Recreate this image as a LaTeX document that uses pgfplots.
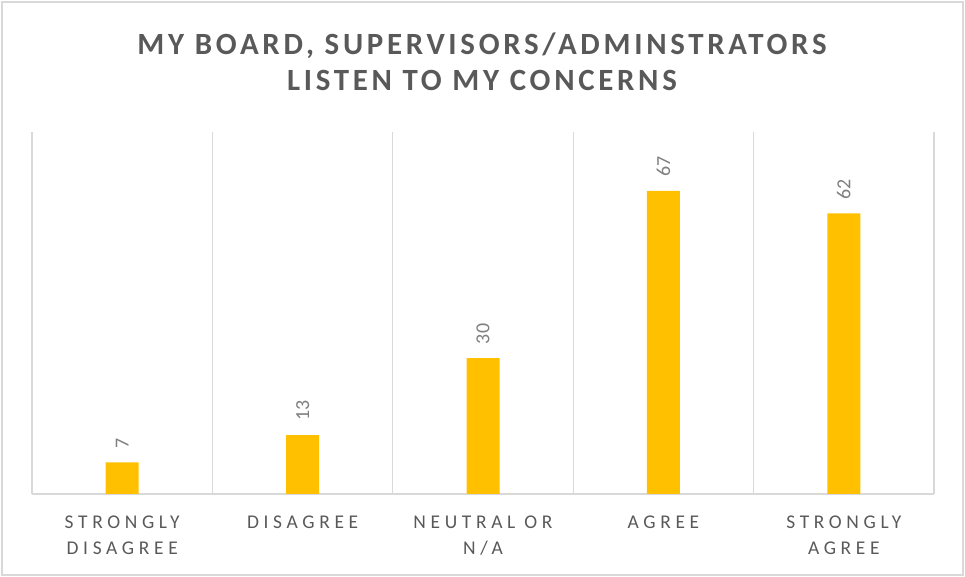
\documentclass[border=0pt]{standalone}
\usepackage{fontspec}
\usepackage{pgfplots}
\pgfplotsset{compat=1.18}
\setmainfont{Carlito}
\newfontfamily\titlefont[LetterSpace=12]{Carlito}
\newfontfamily\tickfont[LetterSpace=24]{Carlito}
\definecolor{baryellow}{HTML}{FFC000}
\definecolor{txtgray}{HTML}{595959}
\definecolor{lblgray}{HTML}{7F7F7F}
\definecolor{gridgray}{HTML}{D9D9D9}
\begin{document}
\begin{tikzpicture}[x=1bp,y=1bp]
\useasboundingbox (-32,-83) rectangle (933,494);
\draw[gridgray, line width=1.2bp] (-30,-81) rectangle (931,492);
\begin{axis}[
  at={(0,0)}, anchor=south west,
  scale only axis, width=902bp, height=362bp,
  ymin=0, ymax=80,
  xmin=-0.5, xmax=4.5,
  axis x line*=bottom, axis y line=none,
  x axis line style={gridgray, line width=1.5bp, -},
  xtick={0,1,2,3,4},
  xticklabels={{STRONGLY\\DISAGREE},{DISAGREE},{NEUTRAL OR\\N/A},{AGREE},{STRONGLY\\AGREE}},
  major tick length=0pt,
  minor xtick={-0.5,0.5,1.5,2.5,3.5,4.5},
  minor tick length=0pt,
  xminorgrids=true,
  minor grid style={gridgray, line width=1.2bp},
  xticklabel style={font=\fontsize{19.5}{26}\tickfont, text=txtgray, align=center, anchor=north, yshift=-18bp},
  /pgf/number format/assume math mode=true,
  ybar, bar width=33bp,
  nodes near coords,
  every node near coord/.append style={font=\fontsize{20}{24}\selectfont, text=lblgray, rotate=90, anchor=west, inner xsep=14bp},
  clip=false,
]
\addplot[fill=baryellow, draw=none] coordinates {(0,7) (1,13) (2,30) (3,67) (4,62)};
\end{axis}
\node[font=\fontsize{31}{36}\titlefont\bfseries, text=txtgray, align=center] at (450,432) {MY BOARD, SUPERVISORS/ADMINSTRATORS\\LISTEN TO MY CONCERNS};
\end{tikzpicture}
\end{document}
